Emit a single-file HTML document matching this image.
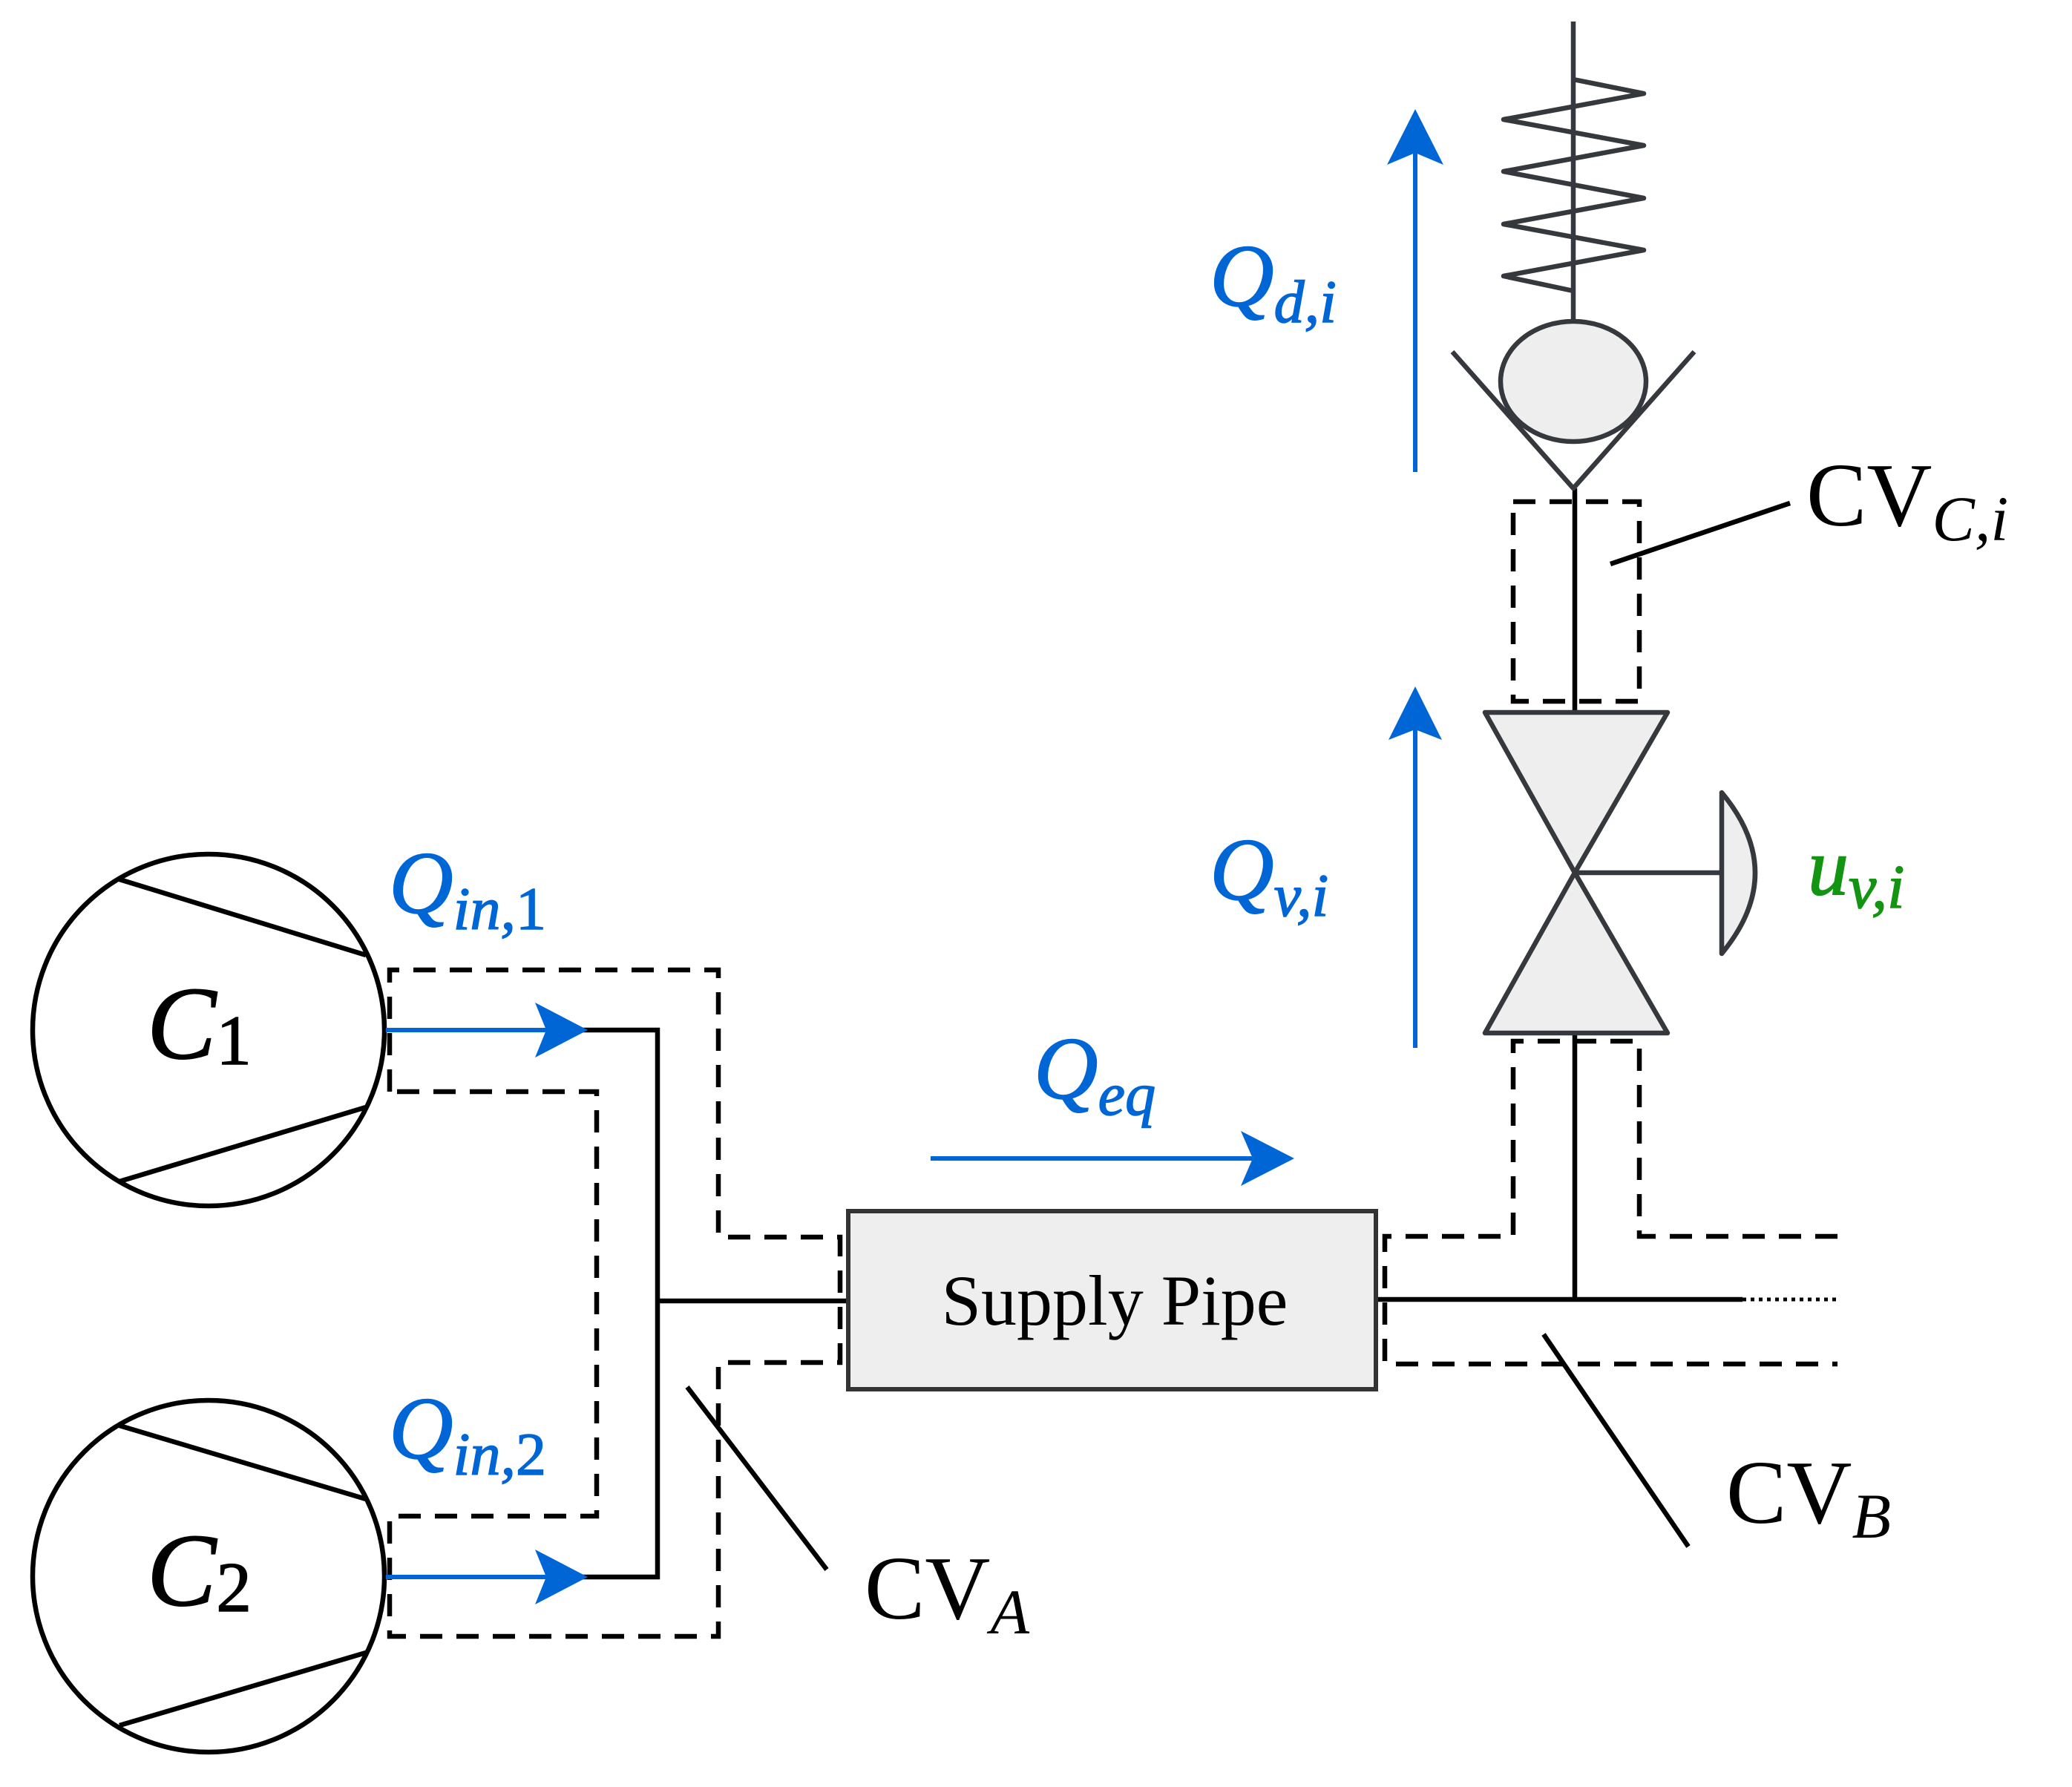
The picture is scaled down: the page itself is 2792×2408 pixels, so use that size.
<!DOCTYPE html>
<html><head><meta charset="utf-8"><style>html,body{margin:0;padding:0;background:#fff}svg{display:block}</style></head>
<body>
<svg width="2792" height="2408" viewBox="0 0 2792 2408" xmlns="http://www.w3.org/2000/svg" font-family="'Liberation Serif', serif">
<g fill="none" stroke="#000" stroke-width="6.5">
 <circle cx="281" cy="1388" r="237"/>
 <line x1="161" y1="1185" x2="493" y2="1287"/>
 <line x1="161" y1="1592" x2="493" y2="1492"/>
 <circle cx="281" cy="2124" r="237"/>
 <line x1="161" y1="1921" x2="493" y2="2020"/>
 <line x1="161" y1="2325" x2="493" y2="2227"/>
 <polyline points="780,1388 886,1388 886,2125 780,2125"/>
 <line x1="886" y1="1753" x2="1144" y2="1753"/>
 <line x1="1854" y1="1751" x2="2348" y2="1751"/>
 <line x1="2348" y1="1751" x2="2480" y2="1751" stroke-dasharray="5,6" stroke-width="5"/>
 <line x1="2122" y1="1751" x2="2122" y2="1392"/>
 <line x1="2122" y1="960" x2="2122" y2="658"/>
 <g stroke-dasharray="30,19">
  <polyline points="525,1471 525,1307 968,1307 968,1667 1132,1667 1132,1836 968,1836 968,2205 525,2205 525,2043 804,2043 804,1471 525,1471"/>
  <polyline points="2476,1666 2209,1666 2209,1403 2039,1403 2039,1666 1866,1666 1866,1838 2476,1838"/>
  <rect x="2039" y="676" width="170" height="269"/>
 </g>
 <line x1="926" y1="1869" x2="1114" y2="2115"/>
 <line x1="2080" y1="1798" x2="2275" y2="2084"/>
 <line x1="2170" y1="760" x2="2412" y2="678"/>
</g>
<rect x="1143" y="1632" width="711" height="240" fill="#eee" stroke="#333" stroke-width="6"/>
<text x="1502" y="1785" font-size="96" text-anchor="middle" fill="#000">Supply Pipe</text>
<g stroke="#35383c" stroke-width="6.5" stroke-linejoin="round">
 <polygon points="2001,960 2247,960 2122,1176" fill="#eee"/>
 <polygon points="2001,1392 2247,1392 2122,1176" fill="#eee"/>
 <line x1="2122" y1="1176" x2="2320" y2="1176"/>
 <path d="M2320,1068 Q2410,1176 2320,1285 Z" fill="#eee"/>
 <polyline points="1957,474 2120,658 2283,474" fill="none"/>
 <ellipse cx="2120" cy="514" rx="98" ry="81" fill="#eee"/>
 <line x1="2120" y1="29" x2="2120" y2="433"/>
 <polyline fill="none" points="2120,107 2215,126 2026,161 2215,196 2026,231 2215,267 2026,302 2215,337 2026,372 2120,392"/>
</g>
<g stroke="#0066d6" stroke-width="6" fill="#0066d6">
 <line x1="520" y1="1388" x2="740" y2="1388"/>
 <polygon points="792,1388 721,1351 736,1388 721,1425" stroke="none"/>
 <line x1="520" y1="2125" x2="740" y2="2125"/>
 <polygon points="792,2125 721,2088 736,2125 721,2162" stroke="none"/>
 <line x1="1254" y1="1561" x2="1700" y2="1561"/>
 <polygon points="1744,1561 1672,1524 1688,1561 1672,1598" stroke="none"/>
 <line x1="1907" y1="1412" x2="1907" y2="980"/>
 <polygon points="1907,925 1871,997 1907,983 1943,997" stroke="none"/>
 <line x1="1907" y1="636" x2="1907" y2="200"/>
 <polygon points="1907,147 1869,222 1907,206 1945,222" stroke="none"/>
</g>
<g font-style="italic">
 <text x="198" y="1426" font-size="140" fill="#000" stroke="#000" stroke-width="1.5">C<tspan font-style="normal" font-size="95" dy="8">1</tspan></text>
 <text x="198" y="2163" font-size="140" fill="#000" stroke="#000" stroke-width="1.5">C<tspan font-style="normal" font-size="95" dy="8">2</tspan></text>
 <g fill="#0066d6" stroke="#0066d6" stroke-width="1.5">
  <text x="524" y="1230" font-size="120">Q<tspan font-size="82" dy="22">in,</tspan><tspan font-style="normal" font-size="82">1</tspan></text>
  <text x="524" y="1965" font-size="120">Q<tspan font-size="82" dy="22">in,</tspan><tspan font-style="normal" font-size="82">2</tspan></text>
  <text x="1393" y="1480" font-size="120">Q<tspan font-size="82" dy="22">eq</tspan></text>
  <text x="1630" y="1212" font-size="120">Q<tspan font-size="82" dy="22">v,i</tspan></text>
  <text x="1630" y="412" font-size="120">Q<tspan font-size="82" dy="22">d,i</tspan></text>
 </g>
 <text x="2436" y="1205" font-size="110" fill="#139413" stroke="#139413" stroke-width="1.5">u<tspan font-size="84" dy="18">v,i</tspan></text>
</g>
<g fill="#000" font-size="122">
 <text x="1165" y="2181">CV<tspan font-style="italic" font-size="86" dy="20">A</tspan></text>
 <text x="2326" y="2052">CV<tspan font-style="italic" font-size="86" dy="20">B</tspan></text>
 <text x="2434" y="708">CV<tspan font-style="italic" font-size="86" dy="20">C,i</tspan></text>
</g>
</svg>
</body></html>
